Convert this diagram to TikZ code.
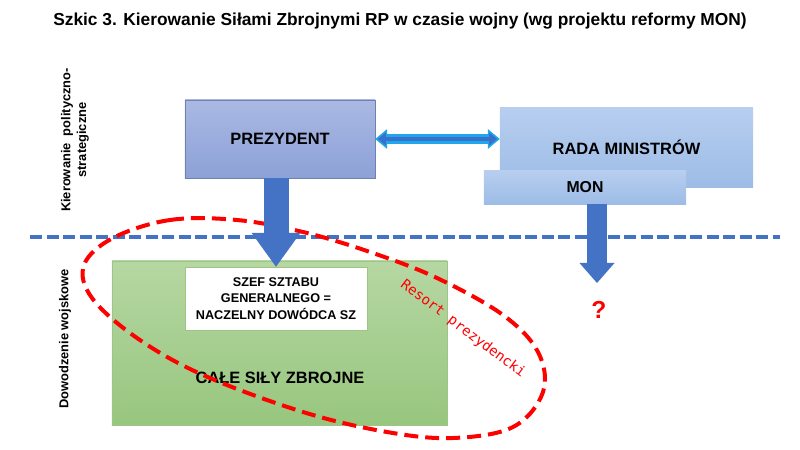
\documentclass[tikz,border=0pt]{standalone}
\usepackage{fontspec}
\setmainfont{Liberation Sans}
\newfontfamily\resortfont{DejaVu Sans Mono}
\usetikzlibrary{arrows.meta}
\definecolor{prezTop}{HTML}{AAB9E3}
\definecolor{prezBot}{HTML}{8CA1D7}
\definecolor{radaTop}{HTML}{B7CEEF}
\definecolor{radaBot}{HTML}{9DBCE6}
\definecolor{greenTop}{HTML}{B6D7A3}
\definecolor{greenBot}{HTML}{97C67E}
\definecolor{greenLine}{HTML}{9CC586}
\definecolor{blockBlue}{HTML}{4472C4}
\definecolor{linkCyan}{HTML}{1EA7EA}
\definecolor{linkBlue}{HTML}{3A6FCB}
\definecolor{resortRed}{HTML}{FF0000}

\begin{document}
\begin{tikzpicture}[x=0.03cm, y=-0.03cm, font=\bfseries,
	box/.style={draw, thin, inner sep=0pt, align=center},
	blockarrow/.style={draw=blockBlue, line width=#1}]
	\useasboundingbox (0,0) rectangle (800,450);

	\node[font=\bfseries\fontsize{14.8}{17}\selectfont] (title) at (400,21) {Szkic 3. Kierowanie Siłami Zbrojnymi RP w czasie wojny (wg projektu reformy MON)};

	\node[rotate=90, align=center, font=\bfseries\fontsize{11}{13.5}\selectfont] (kier) at (75,140) {Kierowanie\ \ polityczno-\\strategiczne};
	\node[rotate=90, font=\bfseries\fontsize{11}{13}\selectfont] (dow) at (65,339) {Dowodzenie wojskowe};

	\coordinate (dl) at (30,237);
	\coordinate (dr) at (780,237);
	\draw[blockBlue, line width=0.105cm, dash pattern=on 0.36cm off 0.135cm] (dl) -- (dr);

	\node[box, draw=greenLine, top color=greenTop, bottom color=greenBot, minimum width=10.05cm, minimum height=4.92cm] (sily) at (279.5,343) {};
	\node[font=\bfseries\fontsize{14}{16}\selectfont] (silytext) at (280,378) {CAŁE SIŁY ZBROJNE};
	\node[box, draw=greenLine, fill=white, minimum width=5.46cm, minimum height=1.89cm, font=\bfseries\fontsize{10.8}{14}\selectfont] (szef) at (276,298.5) {SZEF SZTABU\\GENERALNEGO =\\NACZELNY DOWÓDCA SZ};

	\draw[resortRed, line width=0.12cm, dash pattern=on 0.42cm off 0.21cm] plot[smooth cycle, tension=0.6] coordinates {(113,238) (170,220) (237,220) (303,232) (370,252) (437,278) (503,315) (538,352) (543,392) (513,427) (453,438) (387,432) (303,412) (203,375) (137,338) (92,298) (84,265)};
	\node[text=resortRed, rotate=-37, font=\resortfont\fontsize{12}{14}\selectfont] (resorttxt) at (463,329) {Resort prezydencki};

	\node[box, draw=prezBot!80!black, top color=prezTop, bottom color=prezBot, minimum width=5.7cm, minimum height=2.34cm, font=\bfseries\fontsize{14}{16}\selectfont] (prez) at (280,139) {PREZYDENT};
	\node[box, draw=none, top color=radaTop, bottom color=radaBot, minimum width=7.59cm, minimum height=2.37cm, font=\bfseries\fontsize{14}{16}\selectfont] (rada) at (626.5,147.5) {RADA MINISTRÓW};
	\node[box, draw=none, top color=radaTop, bottom color=radaBot, minimum width=6.06cm, minimum height=0.99cm, font=\bfseries\fontsize{13.5}{16}\selectfont] (mon) at (585,187.5) {MON};

	\path[draw=linkCyan, line width=0.3cm, {Triangle[width=0.6cm, length=0.36cm, line width=0pt]}-{Triangle[width=0.6cm, length=0.36cm, line width=0pt]}] (prez.east) -- (prez.east -| rada.west);
	\path[draw=linkBlue, line width=0.14cm, shorten <=0.08cm, shorten >=0.08cm, {Triangle[width=0.4cm, length=0.24cm, line width=0pt]}-{Triangle[width=0.4cm, length=0.24cm, line width=0pt]}] (prez.east) -- (prez.east -| rada.west);

	\path[blockarrow=0.75cm, -{Triangle[width=1.47cm, length=1.02cm, line width=0pt]}] (prez.south -| szef.north) -- (szef.north);

	\coordinate (q) at (597,283);
	\path[blockarrow=0.6cm, -{Triangle[width=1.05cm, length=0.6cm, line width=0pt]}] (mon.south -| q) -- (q);
	\node[text=resortRed, font=\bfseries\fontsize{21}{23}\selectfont] (qmark) at (599,310) {?};
\end{tikzpicture}
\end{document}
